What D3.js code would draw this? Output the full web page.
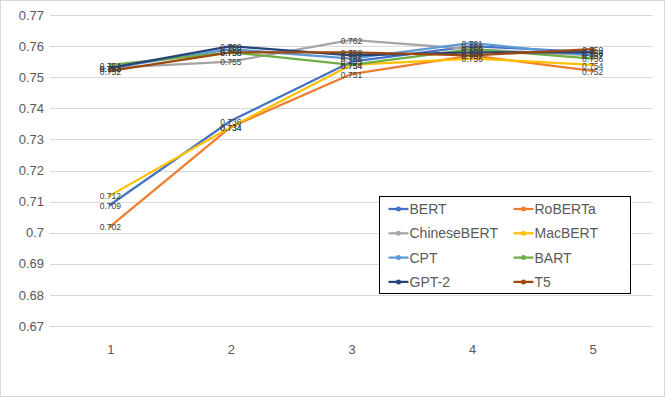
<!DOCTYPE html>
<html>
<head>
<meta charset="utf-8">
<style>
body { margin: 0; background: #fff; }
svg { display: block; font-family: "Liberation Sans", Arial, sans-serif; }
.grid line { stroke: #d9d9d9; stroke-width: 1px; }
.tick text { fill: #595959; font-size: 13px; }
.lbl { fill: #404040; font-size: 8.5px; }
.leg text { fill: #595959; font-size: 14px; }
</style>
</head>
<body>
<svg id="chart"></svg>
<script src="https://cdn.jsdelivr.net/npm/d3@7"></script>
<script>

// x categories and y ticks
var categories = ["1", "2", "3", "4", "5"];
var yTicks = [0.67, 0.68, 0.69, 0.70, 0.71, 0.72, 0.73, 0.74, 0.75, 0.76, 0.77];

// one array per model
var bert        = [0.709, 0.736, 0.755, 0.760, 0.758];
var roberta     = [0.702, 0.734, 0.751, 0.757, 0.752];
var chinesebert = [0.753, 0.755, 0.762, 0.759, 0.757];
var macbert     = [0.712, 0.734, 0.754, 0.756, 0.754];
var cpt         = [0.753, 0.759, 0.756, 0.761, 0.757];
var bart        = [0.754, 0.758, 0.754, 0.759, 0.756];
var gpt2        = [0.753, 0.760, 0.757, 0.758, 0.758];
var t5          = [0.752, 0.758, 0.758, 0.757, 0.759];

var seriesNames  = ["BERT", "RoBERTa", "ChineseBERT", "MacBERT", "CPT", "BART", "GPT-2", "T5"];
var seriesValues = [bert, roberta, chinesebert, macbert, cpt, bart, gpt2, t5];
var seriesColors = ["#4472C4", "#ED7D31", "#A5A5A5", "#FFC000", "#5B9BD5", "#70AD47", "#264478", "#9E480E"];

var W = 665, H = 397;
var margin = {top: 15, right: 12, bottom: 71, left: 50};
var width = W - margin.left - margin.right,
    height = H - margin.top - margin.bottom;

var svg = d3.select("#chart").attr("width", W).attr("height", H);

// outer frame
svg.append("rect")
    .attr("x", 0.5).attr("y", 0.5)
    .attr("width", W - 1).attr("height", H - 1)
    .attr("fill", "#fff").attr("stroke", "#d9d9d9");

var g = svg.append("g")
    .attr("transform", "translate(" + margin.left + "," + margin.top + ")");

var x = d3.scalePoint().domain(categories).range([0, width]).padding(0.5);
var y = d3.scaleLinear().domain([0.67, 0.77]).range([height, 0]);

// gridlines
g.append("g").attr("class", "grid")
  .selectAll("line")
  .data(yTicks)
  .enter().append("line")
    .attr("x1", 0).attr("x2", width)
    .attr("y1", function(d) { return Math.round(y(d)) + 0.5; })
    .attr("y2", function(d) { return Math.round(y(d)) + 0.5; });

// y axis (labels only)
var yAxis = g.append("g")
    .call(d3.axisLeft(y).tickValues(yTicks).tickSize(0).tickPadding(6)
      .tickFormat(function(d) { return d3.format("")(+d.toFixed(2)); }));
yAxis.select(".domain").remove();

// x axis (labels only)
var xAxis = g.append("g")
    .attr("transform", "translate(0," + height + ")")
    .call(d3.axisBottom(x).tickSize(0).tickPadding(19));
xAxis.select(".domain").remove();

var line = d3.line()
    .x(function(d, i) { return x(categories[i]); })
    .y(function(d) { return y(d); });

// lines and markers
seriesValues.forEach(function(vals, k) {
  g.append("path")
    .datum(vals)
    .attr("fill", "none")
    .attr("stroke", seriesColors[k])
    .attr("stroke-width", 2.25)
    .attr("stroke-linejoin", "round")
    .attr("d", line);

  g.selectAll(".pt" + k)
    .data(vals)
    .enter().append("circle")
      .attr("cx", function(d, i) { return x(categories[i]); })
      .attr("cy", function(d) { return y(d); })
      .attr("r", 1.6)
      .attr("fill", seriesColors[k]);
});

// data labels
seriesValues.forEach(function(vals, k) {
  g.selectAll(".lb" + k)
    .data(vals)
    .enter().append("text")
      .attr("class", "lbl")
      .attr("x", function(d, i) { return x(categories[i]); })
      .attr("y", function(d) { return y(d); })
      .attr("dy", "0.45em")
      .attr("text-anchor", "middle")
      .text(function(d) { return d3.format(".3f")(d); });
});

// legend
var leg = svg.append("g").attr("class", "leg")
    .attr("transform", "translate(379.5,196.5)");
leg.append("rect")
    .attr("width", 251).attr("height", 97)
    .attr("fill", "#fff").attr("stroke", "#000").attr("stroke-width", 1);

var item = leg.selectAll(".item")
    .data(seriesNames)
    .enter().append("g")
    .attr("class", "item")
    .attr("transform", function(d, i) {
      return "translate(" + (i % 2 === 0 ? 9 : 134) + "," + (12.5 + Math.floor(i / 2) * 24.3) + ")";
    });

item.append("line")
    .attr("x1", 0).attr("x2", 20)
    .attr("stroke", function(d, i) { return seriesColors[i]; })
    .attr("stroke-width", 2.25);
item.append("circle")
    .attr("cx", 10).attr("r", 2.5)
    .attr("fill", function(d, i) { return seriesColors[i]; });
item.append("text")
    .attr("x", 21).attr("dy", "0.36em")
    .text(function(d) { return d; });

</script>
</body>
</html>
